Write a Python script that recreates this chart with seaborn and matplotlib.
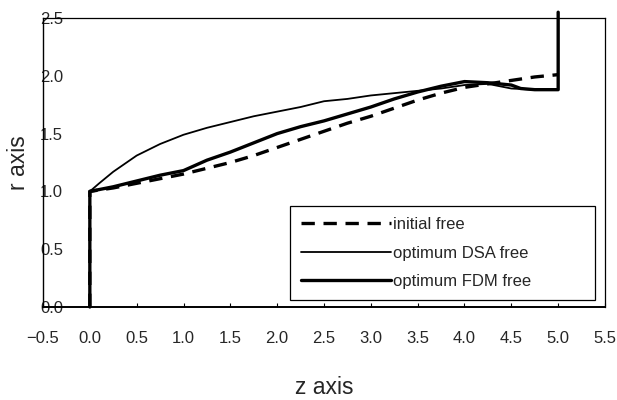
import matplotlib
matplotlib.use("Agg")
import matplotlib.pyplot as plt
import seaborn as sns

# Free-surface profiles r(z)
z_init = [0.0, 0.0, 0.25, 0.5, 0.75, 1.0, 1.25, 1.5, 1.75, 2.0, 2.25, 2.5, 2.75,
          3.0, 3.25, 3.5, 3.75, 4.0, 4.25, 4.5, 4.75, 5.0]
r_init = [0.0, 1.0, 1.03, 1.07, 1.11, 1.15, 1.20, 1.25, 1.31, 1.38, 1.45, 1.52, 1.59,
          1.65, 1.72, 1.79, 1.85, 1.90, 1.93, 1.96, 1.99, 2.01]

z_dsa = [0.0, 0.1, 0.25, 0.5, 0.75, 1.0, 1.25, 1.5, 1.75, 2.0, 2.25, 2.5, 2.75,
         3.0, 3.25, 3.5, 3.75, 4.0, 4.25, 4.5, 4.75, 5.0]
r_dsa = [1.0, 1.07, 1.17, 1.31, 1.41, 1.49, 1.55, 1.60, 1.65, 1.69, 1.73, 1.78, 1.80,
         1.83, 1.85, 1.87, 1.89, 1.92, 1.93, 1.89, 1.88, 1.88]

z_fdm = [0.0, 0.0, 0.25, 0.5, 0.75, 1.0, 1.25, 1.5, 1.75, 2.0, 2.25, 2.5, 2.75,
         3.0, 3.25, 3.5, 3.75, 4.0, 4.25, 4.5, 4.6, 4.75, 5.0, 5.0]
r_fdm = [0.0, 1.0, 1.04, 1.09, 1.14, 1.18, 1.27, 1.34, 1.42, 1.50, 1.56, 1.61, 1.67,
         1.73, 1.80, 1.86, 1.91, 1.95, 1.94, 1.92, 1.89, 1.88, 1.88, 2.55]

labels = ["initial free", "optimum DSA free", "optimum FDM free"]
x_ticks = [-0.5, 0.0, 0.5, 1.0, 1.5, 2.0, 2.5, 3.0, 3.5, 4.0, 4.5, 5.0, 5.5]
y_ticks = [0.0, 0.5, 1.0, 1.5, 2.0, 2.5]

sns.set_style("white")
plt.rcParams["font.family"] = ["Liberation Sans", "DejaVu Sans"]

fig = plt.figure(figsize=(6.17, 4.0), dpi=100)
ax = fig.add_axes([43 / 617, 1 - 307 / 400, 562 / 617, 289 / 400])

sns.lineplot(x=z_init, y=r_init, ax=ax, color="black", lw=2.4,
             linestyle=(0, (4, 2.6)), sort=False, estimator=None, label=labels[0])
sns.lineplot(x=z_dsa, y=r_dsa, ax=ax, color="black", lw=1.3,
             sort=False, estimator=None, label=labels[1])
sns.lineplot(x=z_fdm, y=r_fdm, ax=ax, color="black", lw=2.4,
             sort=False, estimator=None, label=labels[2], clip_on=False)

ax.set_xlim(-0.5, 5.5)
ax.set_ylim(0.0, 2.5)
ax.set_xticks(x_ticks)
ax.set_xticklabels([f"{v:.1f}".replace("-", "\u2212") for v in x_ticks])
ax.set_yticks(y_ticks)
ax.set_yticklabels([f"{v:.1f}" for v in y_ticks])

ax.tick_params(axis="x", direction="in", length=3, width=0.8, color="black",
               labelsize=12, pad=17, bottom=True)
ax.tick_params(axis="y", length=0, labelsize=12, pad=2.2)
for lab in ax.get_yticklabels():
    lab.set_horizontalalignment("left")

for side, lw in [("left", 1.0), ("bottom", 1.4), ("top", 0.9), ("right", 0.9)]:
    ax.spines[side].set_color("black")
    ax.spines[side].set_linewidth(lw)

ax.set_xlabel("z axis", fontsize=16.5, labelpad=22)
ax.set_ylabel("r axis", fontsize=16.5, labelpad=7.5)

leg = ax.legend(loc="lower left", bbox_to_anchor=(0.44, 0.024, 0.542, 0.33),
                mode="expand", fontsize=12, handlelength=5.4, handletextpad=0.1,
                labelspacing=0.82, borderpad=0.65, borderaxespad=0,
                frameon=True, fancybox=False, edgecolor="black", framealpha=1)
leg.get_frame().set_linewidth(0.9)

fig.savefig("out.png", dpi=100)
